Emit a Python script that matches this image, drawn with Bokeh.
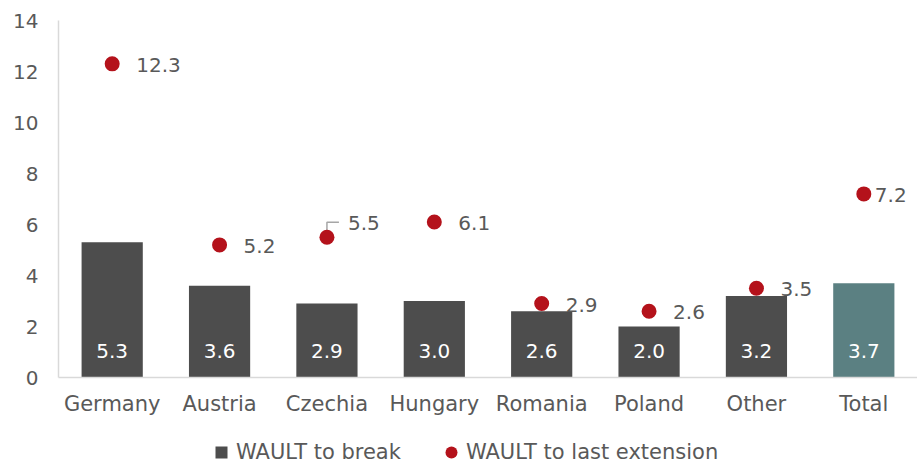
from bokeh.plotting import figure
from bokeh.layouts import column
from bokeh.models import Range1d, FixedTicker, ColumnDataSource, Legend, LegendItem
from bokeh.core.properties import value
from bokeh.embed import file_html
from bokeh.resources import INLINE

categories = ["Germany", "Austria", "Czechia", "Hungary", "Romania", "Poland", "Other", "Total"]
wault_break = [5.3, 3.6, 2.9, 3.0, 2.6, 2.0, 3.2, 3.7]
wault_extension = [12.3, 5.2, 5.5, 6.1, 2.9, 2.6, 3.5, 7.2]
y_ticks = [0, 2, 4, 6, 8, 10, 12, 14]
series_names = ["WAULT to break", "WAULT to last extension"]

FONT = "DejaVu Sans"
TXT = "#595959"
BAR = "#4d4d4d"
TOTAL = "#5b8082"
RED = "#b4121b"

W, H = 917, 420
LEFT, TOP, BOTTOM = 58, 20, 43
X_END = 8.0
frame_w = W - LEFT
frame_h = H - TOP - BOTTOM
px_x = X_END / frame_w
px_y = 14 / frame_h

xs = [i + 0.5 for i in range(len(categories))]
colors = [BAR] * (len(categories) - 1) + [TOTAL]
x_off = [24, 24, 21, 24, 24, 24, 24, 11]
y_off = [1, 1, -14, 1, 1, 1, 1, 1]

src = ColumnDataSource(dict(
    x=xs, cat=categories, brk=wault_break, ext=wault_extension, color=colors,
    brk_lbl=[f"{v:.1f}" for v in wault_break],
    ext_lbl=[f"{v:.1f}" for v in wault_extension],
    xoff=x_off, yoff=y_off,
))

p = figure(width=W, height=H, x_range=Range1d(0, X_END), y_range=Range1d(0, 14),
           output_backend="svg", toolbar_location=None,
           min_border_left=LEFT, min_border_right=0, min_border_top=TOP,
           min_border_bottom=BOTTOM)
p.outline_line_color = None
p.xgrid.visible = False
p.ygrid.visible = False
p.background_fill_color = "white"
p.border_fill_color = "white"

bars = p.vbar(x="x", top="brk", width=0.57, bottom=0, source=src,
              fill_color="color", line_color=None)

# leader line for Czechia label
ci = categories.index("Czechia")
cx = xs[ci]
cy = wault_extension[ci]
p.line([cx, cx, cx + 12 * px_x], [cy, cy + 15 * px_y, cy + 15 * px_y],
       line_color="#a6a6a6", line_width=1.5)

dots = p.scatter(x="x", y="ext", source=src, size=15, fill_color=RED,
                 line_color=None)

p.text(x="x", y=0, text="brk_lbl", source=src, y_offset=-27,
       text_align="center", text_baseline="middle", text_color="white",
       text_font=value(FONT), text_font_size="20px")

p.text(x="x", y="ext", text="ext_lbl", source=src, x_offset="xoff", y_offset="yoff",
       text_align="left", text_baseline="middle", text_color=TXT,
       text_font=value(FONT), text_font_size="20px")

for ax in (p.xaxis[0], p.yaxis[0]):
    ax.axis_line_color = "#d9d9d9"
    ax.axis_line_width = 1.5
    ax.major_tick_line_color = None
    ax.minor_tick_line_color = None
    ax.major_tick_out = 0
    ax.major_tick_in = 0
    ax.minor_tick_out = 0
    ax.minor_tick_in = 0
    ax.major_label_text_color = TXT
    ax.major_label_text_font = FONT

p.xaxis.ticker = FixedTicker(ticks=xs)
p.xaxis.major_label_overrides = {x: c for x, c in zip(xs, categories)}
p.xaxis.major_label_text_font_size = "21px"
p.xaxis.major_label_standoff = 14

p.yaxis.ticker = FixedTicker(ticks=y_ticks)
p.yaxis.major_label_text_font_size = "20px"
p.yaxis.major_label_standoff = 20

# legend strip below the chart
LH = 44
pl = figure(width=W, height=LH, x_range=Range1d(0, 1), y_range=Range1d(0, 1),
            output_backend="svg", toolbar_location=None,
            x_axis_type=None, y_axis_type=None,
            min_border_left=0, min_border_right=0, min_border_top=0, min_border_bottom=0)
pl.outline_line_color = None
pl.xgrid.visible = False
pl.ygrid.visible = False
pl.background_fill_color = "white"
pl.border_fill_color = "white"
nan = float("nan")
leg_sq = pl.scatter([nan], [nan], marker="square", fill_color=BAR, line_color=None)
leg_ci = pl.scatter([nan], [nan], marker="circle", fill_color=RED, line_color=None)

leg = Legend(items=[LegendItem(label=series_names[0], renderers=[leg_sq], index=0),
                    LegendItem(label=series_names[1], renderers=[leg_ci], index=0)],
             location=(148, -3), orientation="horizontal",
             glyph_width=30, glyph_height=30, label_standoff=-6, spacing=35,
             padding=0, margin=0, border_line_color=None, background_fill_alpha=0,
             label_text_font=FONT, label_text_font_size="21px", label_text_color=TXT)
pl.add_layout(leg, "center")

layout = column(p, pl, spacing=0)
open("out.html", "w").write(file_html(layout, INLINE))
